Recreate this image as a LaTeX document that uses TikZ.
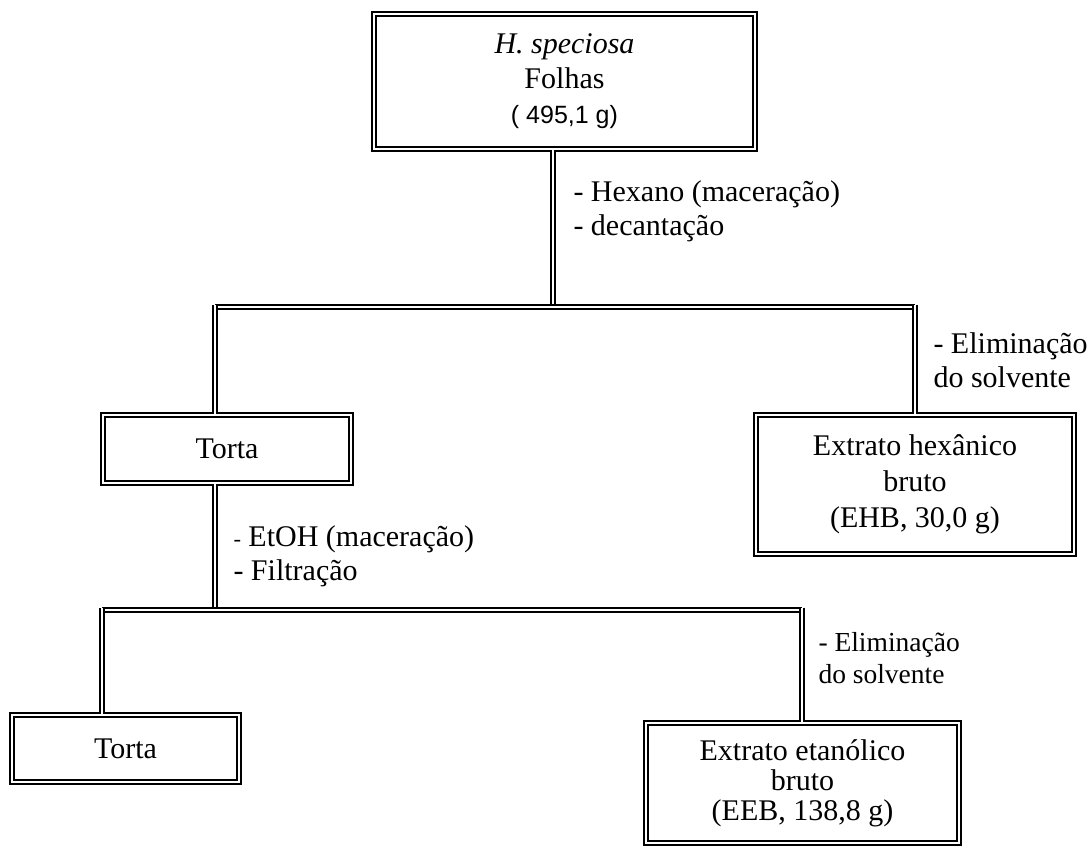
\documentclass[tikz,border=0pt]{standalone}
\usepackage{fontspec}
\setmainfont{Liberation Serif}
\newfontfamily\arialfont{Liberation Sans}

\begin{document}
\begin{tikzpicture}[x=0.4pt,y=-0.4pt,
  box/.style={draw, line width=0.7pt, double, double distance=1pt, align=center,
    inner sep=0pt, font=\fontsize{12}{14}\selectfont},
  dline/.style={line width=0.6pt, double, double distance=0.9pt},
  lbl/.style={anchor=west, align=left, inner sep=0pt, font=\fontsize{12}{13.5}\selectfont}]
\useasboundingbox (0,0) rectangle (1088,848);

% boxes
\node[box, minimum width=152.4pt, minimum height=54pt] (F) at (564.5,81.5)
  {\textit{H. speciosa}\\Folhas\\{\arialfont\fontsize{10}{12}\selectfont ( 495,1 g)}};
\node[box, minimum width=99.2pt, minimum height=27.2pt] (T1) at (227,449) {Torta};
\node[box, minimum width=127.2pt, minimum height=55.6pt, font=\fontsize{12}{14.4}\selectfont]
  (EHB) at (915,484.5) {Extrato hexânico\\bruto\\(EHB, 30,0 g)};
\node[box, minimum width=90.8pt, minimum height=26.8pt] (T2) at (125.5,748.5) {Torta};
\node[box, minimum width=125.2pt, minimum height=48pt, font=\fontsize{12}{12}\selectfont]
  (EEB) at (802.5,783) {Extrato etanólico\\bruto\\(EEB, 138,8 g)};

% first split
\coordinate (a) at (553,307);
\coordinate (al) at (215,307);
\coordinate (ar) at (915,307);
\draw[dline] (a |- F.south) -- (a);
\draw[dline] (al) -- (ar);
\draw[dline, shorten <=-1pt] (al) -- (al |- T1.north);
\draw[dline, shorten <=-1pt] (ar) -- (EHB.north);

% second split
\coordinate (b) at (215,610);
\coordinate (bl) at (102,610);
\coordinate (br) at (802,610);
\draw[dline] (b |- T1.south) -- (b);
\draw[dline] (bl) -- (br);
\draw[dline, shorten <=-1pt] (bl) -- (bl |- T2.north);
\draw[dline, shorten <=-1pt] (br) -- (br |- EEB.north);

% labels
\node[lbl] (hx) at (573,211) {- Hexano (maceração)\\- decantação};
\node[lbl] (el1) at (933,360) {- Eliminação\\do solvente};
\node[lbl] (et) at (233,556) {{\small -} EtOH (maceração)\\- Filtração};
\node[lbl, font=\fontsize{11}{12.5}\selectfont] (el2) at (818,658) {- Eliminação\\do solvente};
\end{tikzpicture}
\end{document}
